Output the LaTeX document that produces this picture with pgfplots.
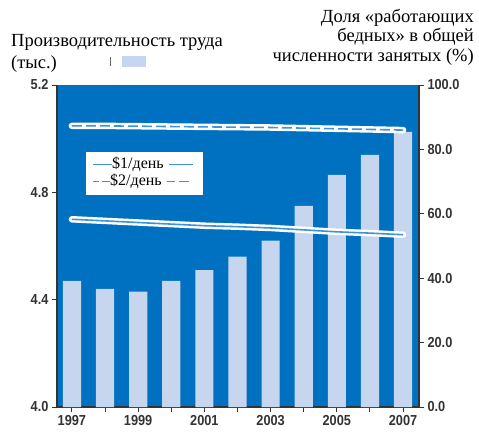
\documentclass[border=0pt]{standalone}
\usepackage{fontspec}
\setmainfont{Liberation Serif}
\newfontfamily\tickfont[FakeStretch=0.88]{Liberation Sans}
\usepackage{pgfplots}
\pgfplotsset{compat=1.18}
\definecolor{bg}{HTML}{0070C0}
\definecolor{barc}{HTML}{C6D6EE}
\definecolor{linec}{HTML}{3D94D8}
\definecolor{axc}{HTML}{333333}
\newcommand{\lr}[1]{\textcolor{linec}{\rule[0.5ex]{#1}{1.3pt}}}
\begin{document}
\begin{tikzpicture}
\useasboundingbox (-57pt,-25pt) rectangle (422pt,407pt);
\begin{axis}[
  at={(0,0)}, anchor=south west, scale only axis,
  width=362pt, height=322pt,
  xmin=1996.55, xmax=2007.48, ymin=4.0, ymax=5.2,
  axis background/.style={fill=bg},
  axis x line*=bottom, axis y line*=left,
  axis line style={-, axc, line width=1.5pt},
  xtick={1997,...,2007},
  xticklabels={1997,,1999,,2001,,2003,,2005,,2007},
  ytick={4.0,4.4,4.8,5.2},
  yticklabel style={/pgf/number format/fixed, /pgf/number format/precision=1, /pgf/number format/fixed zerofill},
  /pgf/number format/assume math mode=true,
  ticklabel style={font=\tickfont\bfseries\fontsize{14.5}{16}\selectfont, text=axc},
  tick style={axc, line width=1pt}, tick align=outside, major tick length=5pt,
  ybar, bar width=0.55,
]
\addplot[fill=barc, draw=none] coordinates {
(1997,4.47) (1998,4.44) (1999,4.43) (2000,4.47) (2001,4.51) (2002,4.56)
(2003,4.62) (2004,4.75) (2005,4.865) (2006,4.94) (2007,5.025)};
\end{axis}
\begin{axis}[
  at={(0,0)}, anchor=south west, scale only axis,
  width=362pt, height=322pt,
  xmin=1996.55, xmax=2007.48, ymin=0, ymax=100,
  axis x line=none, axis y line*=right,
  axis line style={-, axc, line width=1.5pt},
  ytick={0,20,40,60,80,100},
  yticklabel style={/pgf/number format/fixed, /pgf/number format/precision=1, /pgf/number format/fixed zerofill},
  /pgf/number format/assume math mode=true,
  ticklabel style={font=\tickfont\bfseries\fontsize{14.5}{16}\selectfont, text=axc},
  tick style={axc, line width=1pt}, tick align=outside, major tick length=5pt,
]
\addplot[white, line width=6.5pt, line cap=round] coordinates {
(1997,87.3) (1998,87.3) (1999,87.2) (2000,87.1) (2001,87.0) (2002,86.9)
(2003,86.8) (2004,86.6) (2005,86.4) (2006,86.2) (2007,86.0)};
\addplot[white, line width=6.5pt, line cap=round] coordinates {
(1997,58.3) (1998,57.8) (1999,57.3) (2000,56.8) (2001,56.3) (2002,56.0)
(2003,55.6) (2004,55.0) (2005,54.4) (2006,54.0) (2007,53.5)};
\addplot[linec, line width=1.6pt] coordinates {
(1997,58.3) (1998,57.8) (1999,57.3) (2000,56.8) (2001,56.3) (2002,56.0)
(2003,55.6) (2004,55.0) (2005,54.4) (2006,54.0) (2007,53.5)};
\addplot[linec, line width=1.6pt, dash pattern=on 10pt off 4pt] coordinates {
(1997,87.3) (1998,87.3) (1999,87.2) (2000,87.1) (2001,87.0) (2002,86.9)
(2003,86.8) (2004,86.6) (2005,86.4) (2006,86.2) (2007,86.0)};
\end{axis}
% legend box
\fill[white] (29pt,212pt) rectangle (146pt,255pt);
\node[anchor=north west, inner sep=0pt, align=left, font=\fontsize{16}{17}\selectfont] at (36pt,250pt)
  {\lr{19pt}\$1/день\hspace{5pt}\lr{24pt}\\
   \lr{6pt}\hspace{3pt}\lr{8pt}\$2/день\hspace{5pt}\lr{8pt}\hspace{4pt}\lr{10pt}};
% titles
\node[anchor=base west, font=\fontsize{18.5}{22}\selectfont, inner sep=0pt] at (-46pt,360pt) {Производительность труда};
\node[anchor=base west, font=\fontsize{18.5}{22}\selectfont, inner sep=0pt] at (-46pt,338pt) {(тыс.)};
\draw[black!60, line width=0.6pt] (53pt,341pt) -- (53pt,350pt);
\fill[barc] (65pt,340pt) rectangle (89pt,351pt);
\node[anchor=north east, font=\fontsize{18.5}{19.5}\selectfont, inner sep=0pt, align=right] at (417pt,398pt) {Доля «работающих\\бедных» в общей\\численности занятых (\%)};
\end{tikzpicture}
\end{document}
